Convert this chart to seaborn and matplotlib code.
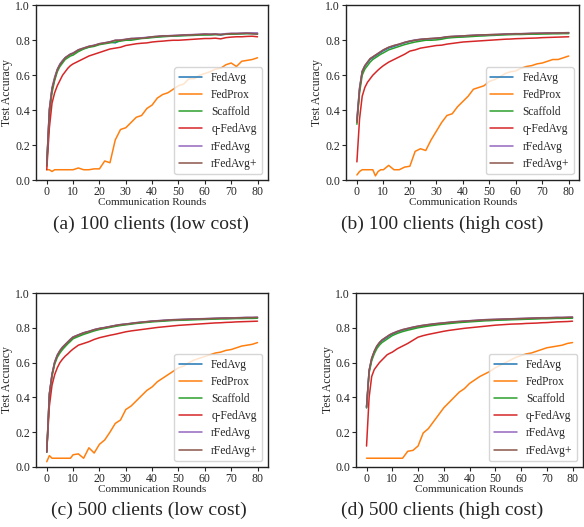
import numpy as np
import pandas as pd
import matplotlib.pyplot as plt
import seaborn as sns

# communication rounds (dense at start where curves rise fast)
rounds = [0, 1, 2, 3, 4, 5, 6, 7, 8, 9, 10] + list(range(12, 81, 2))

methods = ['FedAvg', 'FedProx', 'Scaffold', 'q-FedAvg', 'rFedAvg', 'rFedAvg+']
captions = ['(a) 100 clients (low cost)', '(b) 100 clients (high cost)',
            '(c) 500 clients (low cost)', '(d) 500 clients (high cost)']

# (a) 100 clients, low cost
a_fedavg = [0.09, 0.40, 0.52, 0.58, 0.63, 0.66, 0.68, 0.70, 0.71, 0.72, 0.725, 0.742, 0.752, 0.762, 0.77, 0.778,
            0.783, 0.79, 0.785, 0.80, 0.803, 0.807, 0.81, 0.812, 0.815, 0.818, 0.82, 0.823, 0.824, 0.825, 0.826,
            0.828, 0.829, 0.831, 0.832, 0.833, 0.832, 0.834, 0.83, 0.835, 0.836, 0.837, 0.838, 0.839, 0.838, 0.836]
a_fedprox = [0.06, 0.06, 0.05, 0.06, 0.06, 0.06, 0.06, 0.06, 0.06, 0.06, 0.06, 0.07, 0.06, 0.06, 0.065, 0.065,
             0.11, 0.10, 0.23, 0.29, 0.30, 0.33, 0.36, 0.37, 0.41, 0.43, 0.47, 0.49, 0.50, 0.52, 0.54,
             0.55, 0.58, 0.58, 0.60, 0.61, 0.62, 0.635, 0.64, 0.66, 0.67, 0.65, 0.68, 0.685, 0.69, 0.70]
a_scaffold = [0.08, 0.37, 0.50, 0.57, 0.62, 0.65, 0.67, 0.69, 0.70, 0.71, 0.715, 0.735, 0.75, 0.76, 0.765, 0.775,
              0.78, 0.785, 0.79, 0.795, 0.80, 0.80, 0.805, 0.81, 0.812, 0.815, 0.818, 0.82, 0.822, 0.824, 0.825,
              0.826, 0.827, 0.828, 0.83, 0.83, 0.831, 0.832, 0.833, 0.834, 0.835, 0.836, 0.837, 0.838, 0.838, 0.838]
a_qfedavg = [0.06, 0.30, 0.44, 0.50, 0.54, 0.57, 0.60, 0.62, 0.64, 0.655, 0.665, 0.68, 0.695, 0.71, 0.72, 0.73,
             0.74, 0.75, 0.755, 0.76, 0.77, 0.775, 0.78, 0.783, 0.785, 0.79, 0.793, 0.795, 0.798, 0.80, 0.80,
             0.802, 0.804, 0.806, 0.808, 0.81, 0.81, 0.812, 0.808, 0.815, 0.818, 0.82, 0.82, 0.822, 0.823, 0.82]
a_rfedavg = [0.09, 0.41, 0.53, 0.59, 0.635, 0.665, 0.685, 0.70, 0.712, 0.722, 0.728, 0.746, 0.756, 0.766, 0.772, 0.781,
             0.786, 0.792, 0.80, 0.802, 0.806, 0.81, 0.812, 0.814, 0.817, 0.82, 0.823, 0.826, 0.826, 0.828, 0.829,
             0.831, 0.832, 0.833, 0.834, 0.836, 0.835, 0.836, 0.834, 0.838, 0.84, 0.84, 0.841, 0.842, 0.842, 0.842]
a_rfedavg_p = [0.09, 0.40, 0.52, 0.58, 0.63, 0.66, 0.68, 0.70, 0.71, 0.72, 0.725, 0.745, 0.755, 0.765, 0.77, 0.78,
               0.785, 0.79, 0.80, 0.80, 0.805, 0.81, 0.81, 0.812, 0.815, 0.82, 0.822, 0.825, 0.825, 0.826, 0.828,
               0.83, 0.83, 0.832, 0.833, 0.835, 0.834, 0.835, 0.832, 0.836, 0.838, 0.838, 0.839, 0.84, 0.838, 0.835]

# (b) 100 clients, high cost
b_fedavg = [0.34, 0.52, 0.62, 0.65, 0.67, 0.69, 0.70, 0.71, 0.72, 0.73, 0.74, 0.755, 0.765, 0.775, 0.785, 0.793,
            0.80, 0.803, 0.806, 0.808, 0.81, 0.812, 0.818, 0.82, 0.822, 0.823, 0.825, 0.827, 0.828, 0.829, 0.83,
            0.831, 0.832, 0.834, 0.835, 0.836, 0.836, 0.837, 0.838, 0.838, 0.839, 0.84, 0.84, 0.841, 0.841, 0.842]
b_fedprox = [0.03, 0.05, 0.06, 0.06, 0.06, 0.06, 0.06, 0.025, 0.05, 0.06, 0.06, 0.085, 0.06, 0.06, 0.075, 0.08,
             0.165, 0.18, 0.17, 0.23, 0.28, 0.33, 0.37, 0.38, 0.42, 0.45, 0.48, 0.52, 0.53, 0.54, 0.565,
             0.575, 0.59, 0.61, 0.62, 0.625, 0.64, 0.65, 0.655, 0.665, 0.67, 0.68, 0.69, 0.69, 0.70, 0.71]
b_scaffold = [0.32, 0.50, 0.60, 0.635, 0.655, 0.675, 0.69, 0.70, 0.71, 0.72, 0.728, 0.745, 0.755, 0.765, 0.775, 0.783,
              0.79, 0.795, 0.80, 0.80, 0.802, 0.806, 0.812, 0.815, 0.817, 0.818, 0.82, 0.822, 0.824, 0.825, 0.827,
              0.828, 0.83, 0.831, 0.832, 0.833, 0.833, 0.834, 0.835, 0.835, 0.836, 0.836, 0.837, 0.837, 0.838, 0.838]
b_qfedavg = [0.105, 0.35, 0.48, 0.53, 0.56, 0.58, 0.60, 0.615, 0.63, 0.643, 0.655, 0.675, 0.69, 0.705, 0.72, 0.738,
             0.745, 0.755, 0.76, 0.765, 0.77, 0.772, 0.778, 0.782, 0.786, 0.79, 0.792, 0.794, 0.796, 0.798, 0.80,
             0.802, 0.804, 0.806, 0.807, 0.809, 0.81, 0.811, 0.812, 0.813, 0.815, 0.816, 0.817, 0.818, 0.819, 0.82]
b_rfedavg = [0.35, 0.53, 0.625, 0.655, 0.675, 0.695, 0.705, 0.715, 0.725, 0.735, 0.745, 0.76, 0.77, 0.778, 0.788, 0.796,
             0.802, 0.806, 0.808, 0.81, 0.812, 0.815, 0.82, 0.822, 0.824, 0.825, 0.827, 0.829, 0.83, 0.831, 0.832,
             0.833, 0.834, 0.836, 0.837, 0.838, 0.838, 0.839, 0.84, 0.84, 0.841, 0.842, 0.842, 0.843, 0.843, 0.844]
b_rfedavg_p = [0.33, 0.52, 0.62, 0.655, 0.675, 0.695, 0.705, 0.715, 0.725, 0.735, 0.745, 0.76, 0.77, 0.778, 0.788, 0.795,
               0.80, 0.805, 0.808, 0.81, 0.812, 0.815, 0.82, 0.822, 0.823, 0.825, 0.827, 0.828, 0.83, 0.831, 0.832,
               0.833, 0.834, 0.835, 0.836, 0.837, 0.837, 0.838, 0.839, 0.84, 0.84, 0.841, 0.841, 0.842, 0.842, 0.843]

# (c) 500 clients, low cost
c_fedavg = [0.085, 0.42, 0.53, 0.60, 0.64, 0.665, 0.685, 0.70, 0.715, 0.73, 0.745, 0.758, 0.77, 0.778, 0.788, 0.795,
            0.80, 0.806, 0.812, 0.817, 0.82, 0.824, 0.828, 0.831, 0.834, 0.837, 0.839, 0.841, 0.843, 0.845, 0.846,
            0.847, 0.848, 0.849, 0.85, 0.851, 0.852, 0.853, 0.854, 0.854, 0.855, 0.856, 0.856, 0.857, 0.857, 0.858]
c_fedprox = [0.03, 0.065, 0.05, 0.05, 0.05, 0.05, 0.05, 0.05, 0.05, 0.05, 0.07, 0.075, 0.05, 0.11, 0.08, 0.13,
             0.155, 0.20, 0.25, 0.27, 0.33, 0.35, 0.38, 0.41, 0.44, 0.46, 0.49, 0.51, 0.53, 0.55, 0.57,
             0.58, 0.60, 0.615, 0.625, 0.635, 0.645, 0.655, 0.66, 0.67, 0.675, 0.685, 0.695, 0.70, 0.705, 0.715]
c_scaffold = [0.085, 0.40, 0.52, 0.59, 0.63, 0.655, 0.675, 0.692, 0.708, 0.722, 0.737, 0.75, 0.762, 0.772, 0.782, 0.79,
              0.796, 0.802, 0.808, 0.813, 0.817, 0.821, 0.825, 0.828, 0.831, 0.834, 0.836, 0.838, 0.84, 0.842, 0.843,
              0.844, 0.845, 0.846, 0.847, 0.848, 0.849, 0.85, 0.851, 0.851, 0.852, 0.853, 0.853, 0.854, 0.854, 0.855]
c_qfedavg = [0.09, 0.35, 0.47, 0.53, 0.57, 0.60, 0.62, 0.637, 0.65, 0.665, 0.678, 0.70, 0.71, 0.72, 0.733, 0.743,
             0.75, 0.757, 0.763, 0.77, 0.777, 0.782, 0.786, 0.79, 0.794, 0.798, 0.802, 0.805, 0.808, 0.811, 0.814,
             0.816, 0.818, 0.82, 0.822, 0.824, 0.826, 0.828, 0.829, 0.831, 0.832, 0.834, 0.835, 0.836, 0.837, 0.838]
c_rfedavg = [0.085, 0.42, 0.535, 0.605, 0.645, 0.67, 0.69, 0.705, 0.72, 0.735, 0.748, 0.76, 0.772, 0.78, 0.79, 0.797,
             0.802, 0.808, 0.814, 0.819, 0.822, 0.826, 0.83, 0.833, 0.836, 0.839, 0.841, 0.843, 0.845, 0.847, 0.848,
             0.849, 0.85, 0.851, 0.852, 0.853, 0.854, 0.855, 0.856, 0.857, 0.857, 0.858, 0.859, 0.86, 0.86, 0.861]
c_rfedavg_p = [0.085, 0.42, 0.53, 0.60, 0.64, 0.668, 0.688, 0.703, 0.718, 0.733, 0.746, 0.759, 0.771, 0.779, 0.789, 0.796,
               0.801, 0.807, 0.813, 0.818, 0.821, 0.825, 0.829, 0.832, 0.835, 0.838, 0.84, 0.842, 0.844, 0.846, 0.847,
               0.848, 0.849, 0.85, 0.851, 0.852, 0.853, 0.854, 0.855, 0.856, 0.856, 0.857, 0.858, 0.859, 0.859, 0.86]

# (d) 500 clients, high cost
d_fedavg = [0.34, 0.55, 0.62, 0.66, 0.69, 0.71, 0.725, 0.735, 0.745, 0.755, 0.763, 0.776, 0.786, 0.793, 0.8, 0.806,
            0.811, 0.815, 0.819, 0.822, 0.825, 0.828, 0.831, 0.834, 0.836, 0.838, 0.84, 0.842, 0.844, 0.845, 0.846,
            0.847, 0.848, 0.849, 0.85, 0.851, 0.852, 0.853, 0.854, 0.855, 0.855, 0.856, 0.857, 0.857, 0.858, 0.858]
d_fedprox = [0.05, 0.05, 0.05, 0.05, 0.05, 0.05, 0.05, 0.05, 0.05, 0.05, 0.05, 0.05, 0.05, 0.09, 0.095, 0.12,
             0.195, 0.22, 0.26, 0.30, 0.34, 0.37, 0.40, 0.43, 0.45, 0.48, 0.50, 0.52, 0.535, 0.55, 0.57,
             0.585, 0.60, 0.615, 0.63, 0.64, 0.65, 0.655, 0.665, 0.675, 0.685, 0.69, 0.695, 0.70, 0.71, 0.715]
d_scaffold = [0.34, 0.54, 0.61, 0.65, 0.68, 0.70, 0.715, 0.725, 0.735, 0.745, 0.755, 0.768, 0.778, 0.786, 0.793, 0.8,
              0.805, 0.81, 0.814, 0.818, 0.821, 0.824, 0.827, 0.83, 0.832, 0.834, 0.836, 0.838, 0.84, 0.841, 0.843,
              0.844, 0.845, 0.846, 0.847, 0.848, 0.849, 0.85, 0.851, 0.852, 0.852, 0.853, 0.854, 0.854, 0.855, 0.855]
d_qfedavg = [0.12, 0.40, 0.52, 0.56, 0.58, 0.60, 0.615, 0.63, 0.645, 0.653, 0.66, 0.68, 0.695, 0.71, 0.728, 0.746,
             0.755, 0.762, 0.768, 0.774, 0.78, 0.785, 0.789, 0.793, 0.797, 0.80, 0.803, 0.806, 0.809, 0.812, 0.815,
             0.817, 0.819, 0.821, 0.822, 0.823, 0.825, 0.826, 0.827, 0.829, 0.83, 0.832, 0.834, 0.835, 0.836, 0.838]
d_rfedavg = [0.345, 0.555, 0.625, 0.665, 0.695, 0.715, 0.73, 0.74, 0.75, 0.76, 0.768, 0.78, 0.79, 0.797, 0.804, 0.81,
             0.815, 0.819, 0.823, 0.826, 0.829, 0.832, 0.835, 0.837, 0.839, 0.841, 0.843, 0.845, 0.847, 0.848, 0.849,
             0.85, 0.851, 0.852, 0.853, 0.854, 0.855, 0.856, 0.857, 0.858, 0.858, 0.859, 0.86, 0.86, 0.861, 0.862]
d_rfedavg_p = [0.345, 0.555, 0.625, 0.665, 0.695, 0.715, 0.73, 0.74, 0.75, 0.76, 0.767, 0.779, 0.789, 0.796, 0.803, 0.809,
               0.814, 0.818, 0.822, 0.825, 0.828, 0.831, 0.834, 0.836, 0.838, 0.84, 0.842, 0.844, 0.846, 0.847, 0.848,
               0.849, 0.85, 0.851, 0.852, 0.853, 0.854, 0.855, 0.856, 0.857, 0.857, 0.858, 0.859, 0.859, 0.86, 0.861]

panels = [
    [a_fedavg, a_fedprox, a_scaffold, a_qfedavg, a_rfedavg, a_rfedavg_p],
    [b_fedavg, b_fedprox, b_scaffold, b_qfedavg, b_rfedavg, b_rfedavg_p],
    [c_fedavg, c_fedprox, c_scaffold, c_qfedavg, c_rfedavg, c_rfedavg_p],
    [d_fedavg, d_fedprox, d_scaffold, d_qfedavg, d_rfedavg, d_rfedavg_p],
]

sns.set_style("ticks")
plt.rcParams['font.family'] = ['Liberation Serif', 'DejaVu Serif']

colors = sns.color_palette("tab10", 6)

fig = plt.figure(figsize=(5.84, 5.27), dpi=100)
# axes boxes in figure fractions [left, bottom, width, height]
boxes = [[0.062, 0.658, 0.397, 0.332],
         [0.593, 0.658, 0.399, 0.332],
         [0.062, 0.114, 0.397, 0.330],
         [0.610, 0.114, 0.388, 0.330]]
cap_pos = [(0.259, 0.575), (0.757, 0.575), (0.255, 0.032), (0.757, 0.032)]

for i, series in enumerate(panels):
    ax = fig.add_axes(boxes[i])
    df = pd.DataFrame({'round': np.tile(rounds, len(methods)),
                       'acc': np.concatenate(series),
                       'method': np.repeat(methods, len(rounds))})
    sns.lineplot(data=df, x='round', y='acc', hue='method', hue_order=methods,
                 palette=colors, linewidth=1.1, ax=ax)
    ax.set_ylim(0, 1.0)
    ax.set_xticks(range(0, 81, 10))
    ax.set_yticks(np.arange(0, 1.01, 0.2))
    ax.tick_params(labelsize=8.5, length=3, width=0.8, pad=1.5)
    ax.set_xlabel('Communication Rounds', fontsize=8, labelpad=0)
    ax.set_ylabel('Test Accuracy', fontsize=8.5)
    ax.yaxis.set_label_coords(-0.098, 0.5)
    for s in ax.spines.values():
        s.set_color('#222222')
        s.set_linewidth(1.0)
    leg = ax.legend(loc='lower right', fontsize=8.3, frameon=True,
                    handlelength=2.0, borderpad=0.4, labelspacing=0.45)
    leg.get_frame().set_edgecolor('#cccccc')
    fig.text(cap_pos[i][0], cap_pos[i][1], captions[i], fontsize=14,
             ha='center', va='center')

fig.savefig('out.png', dpi=100)
